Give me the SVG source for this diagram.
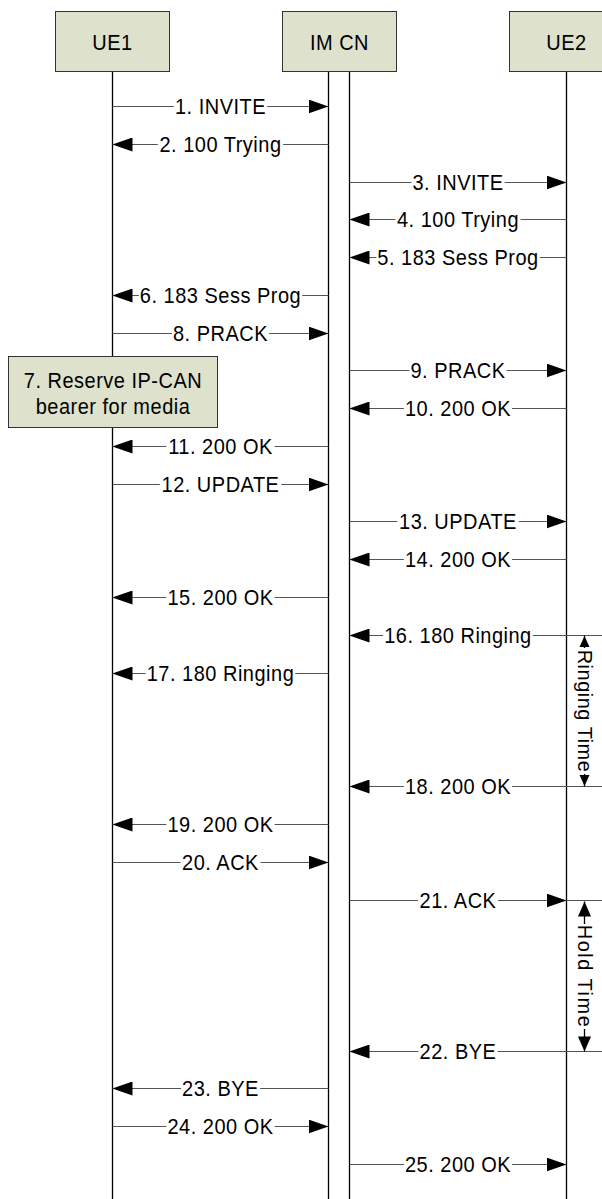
<svg xmlns="http://www.w3.org/2000/svg" width="602" height="1199" viewBox="0 0 602 1199">
<style>
.box{fill:#dee1cb;stroke:#333;stroke-width:1}
.life{stroke:#000;stroke-width:1.3;fill:none}
.msg{stroke:#555;stroke-width:1;fill:none}
.arr{marker-end:url(#ah)}
.head{fill:#000}
text{font-family:"Liberation Sans",Arial,sans-serif;font-size:20px;letter-spacing:0.5px;fill:#000;text-anchor:middle}
.h{transform-box:fill-box;transform-origin:center;transform:scaleY(1.12)}
</style>
<defs>
<marker id="ah" markerUnits="userSpaceOnUse" markerWidth="20" markerHeight="14" refX="20" refY="7" orient="auto"><path d="M0,0 L20,7 L0,14 z" fill="#000"/></marker>
</defs>
<rect width="602" height="1199" fill="#fff"/>
<g id="lifelines">
<line class="life" x1="112.5" y1="71.5" x2="112.5" y2="1199"/>
<line class="life" x1="328.5" y1="71.5" x2="328.5" y2="1199"/>
<line class="life" x1="349.5" y1="71.5" x2="349.5" y2="1199"/>
<line class="life" x1="566.5" y1="71.5" x2="566.5" y2="1199"/>
</g>
<g id="UE1"><rect class="box" x="55.5" y="11.5" width="114" height="60"/><text class="h" x="112.5" y="49">UE1</text></g>
<g id="IMCN"><rect class="box" x="282.5" y="11.5" width="114" height="60"/><text class="h" x="339.5" y="49">IM CN</text></g>
<g id="UE2"><rect class="box" x="509.5" y="11.5" width="114" height="60"/><text class="h" x="566.5" y="49">UE2</text></g>
<g id="note7"><rect class="box" x="8.5" y="356.5" width="209" height="71"/><text class="h" x="113" y="387">7. Reserve IP-CAN</text><text class="h" x="113" y="413">bearer for media</text></g>
<g id="connectors">
<line class="msg" x1="112.5" y1="106.5" x2="173.9" y2="106.5"/><line class="msg arr" x1="267.1" y1="106.5" x2="328.5" y2="106.5"/><text class="h" x="220.5" y="113.5">1. INVITE</text>
<line class="msg" x1="328.5" y1="144.5" x2="283.1" y2="144.5"/><line class="msg arr" x1="157.9" y1="144.5" x2="112.5" y2="144.5"/><text class="h" x="220.5" y="151.5">2. 100 Trying</text>
<line class="msg" x1="349.5" y1="182.5" x2="411.4" y2="182.5"/><line class="msg arr" x1="504.6" y1="182.5" x2="566.5" y2="182.5"/><text class="h" x="458" y="189.5">3. INVITE</text>
<line class="msg" x1="566.5" y1="219.5" x2="520.6" y2="219.5"/><line class="msg arr" x1="395.4" y1="219.5" x2="349.5" y2="219.5"/><text class="h" x="458" y="226.5">4. 100 Trying</text>
<line class="msg" x1="566.5" y1="257.5" x2="539.7" y2="257.5"/><line class="msg arr" x1="376.4" y1="257.5" x2="349.5" y2="257.5"/><text class="h" x="458" y="264.5">5. 183 Sess Prog</text>
<line class="msg" x1="328.5" y1="295.5" x2="302.2" y2="295.5"/><line class="msg arr" x1="138.9" y1="295.5" x2="112.5" y2="295.5"/><text class="h" x="220.5" y="302.5">6. 183 Sess Prog</text>
<line class="msg" x1="112.5" y1="333.5" x2="172" y2="333.5"/><line class="msg arr" x1="269" y1="333.5" x2="328.5" y2="333.5"/><text class="h" x="220.5" y="340.5">8. PRACK</text>
<line class="msg" x1="349.5" y1="370.5" x2="409.5" y2="370.5"/><line class="msg arr" x1="506.5" y1="370.5" x2="566.5" y2="370.5"/><text class="h" x="458" y="377.5">9. PRACK</text>
<line class="msg" x1="566.5" y1="408.5" x2="512.1" y2="408.5"/><line class="msg arr" x1="403.9" y1="408.5" x2="349.5" y2="408.5"/><text class="h" x="458" y="415.5">10. 200 OK</text>
<line class="msg" x1="328.5" y1="446.5" x2="274.6" y2="446.5"/><line class="msg arr" x1="166.4" y1="446.5" x2="112.5" y2="446.5"/><text class="h" x="220.5" y="453.5">11. 200 OK</text>
<line class="msg" x1="112.5" y1="484.5" x2="159.8" y2="484.5"/><line class="msg arr" x1="281.3" y1="484.5" x2="328.5" y2="484.5"/><text class="h" x="220.5" y="491.5">12. UPDATE</text>
<line class="msg" x1="349.5" y1="521.5" x2="397.3" y2="521.5"/><line class="msg arr" x1="518.8" y1="521.5" x2="566.5" y2="521.5"/><text class="h" x="458" y="528.5">13. UPDATE</text>
<line class="msg" x1="566.5" y1="559.5" x2="512.1" y2="559.5"/><line class="msg arr" x1="403.9" y1="559.5" x2="349.5" y2="559.5"/><text class="h" x="458" y="566.5">14. 200 OK</text>
<line class="msg" x1="328.5" y1="597.5" x2="274.6" y2="597.5"/><line class="msg arr" x1="166.4" y1="597.5" x2="112.5" y2="597.5"/><text class="h" x="220.5" y="604.5">15. 200 OK</text>
<line class="msg" x1="602" y1="635.5" x2="532.8" y2="635.5"/><line class="msg arr" x1="383.2" y1="635.5" x2="349.5" y2="635.5"/><text class="h" x="458" y="642.5">16. 180 Ringing</text>
<line class="msg" x1="328.5" y1="673.5" x2="295.3" y2="673.5"/><line class="msg arr" x1="145.7" y1="673.5" x2="112.5" y2="673.5"/><text class="h" x="220.5" y="680.5">17. 180 Ringing</text>
<line class="msg" x1="602" y1="786.5" x2="512.1" y2="786.5"/><line class="msg arr" x1="403.9" y1="786.5" x2="349.5" y2="786.5"/><text class="h" x="458" y="793.5">18. 200 OK</text>
<line class="msg" x1="328.5" y1="824.5" x2="274.6" y2="824.5"/><line class="msg arr" x1="166.4" y1="824.5" x2="112.5" y2="824.5"/><text class="h" x="220.5" y="831.5">19. 200 OK</text>
<line class="msg" x1="112.5" y1="862.5" x2="180.5" y2="862.5"/><line class="msg arr" x1="260.5" y1="862.5" x2="328.5" y2="862.5"/><text class="h" x="220.5" y="869.5">20. ACK</text>
<line class="msg" x1="349.5" y1="900.5" x2="418" y2="900.5"/><line class="msg arr" x1="498" y1="900.5" x2="566.5" y2="900.5"/><line class="msg" x1="566.5" y1="900.5" x2="602" y2="900.5"/><text class="h" x="458" y="907.5">21. ACK</text>
<line class="msg" x1="602" y1="1051.5" x2="497.5" y2="1051.5"/><line class="msg arr" x1="418.5" y1="1051.5" x2="349.5" y2="1051.5"/><text class="h" x="458" y="1058.5">22. BYE</text>
<line class="msg" x1="328.5" y1="1088.5" x2="260" y2="1088.5"/><line class="msg arr" x1="181" y1="1088.5" x2="112.5" y2="1088.5"/><text class="h" x="220.5" y="1095.5">23. BYE</text>
<line class="msg" x1="112.5" y1="1126.5" x2="166.4" y2="1126.5"/><line class="msg arr" x1="274.6" y1="1126.5" x2="328.5" y2="1126.5"/><text class="h" x="220.5" y="1133.5">24. 200 OK</text>
<line class="msg" x1="349.5" y1="1164.5" x2="403.9" y2="1164.5"/><line class="msg arr" x1="512.1" y1="1164.5" x2="566.5" y2="1164.5"/><text class="h" x="458" y="1171.5">25. 200 OK</text>
</g>
<g id="ringing-time">
<line class="life" x1="584.5" y1="635.5" x2="584.5" y2="648"/>
<line class="life" x1="584.5" y1="774" x2="584.5" y2="786.5"/>
<polygon class="head" points="584.5,636 579.5,647 589.5,647"/>
<polygon class="head" points="584.5,786 579.5,775 589.5,775"/>
<text transform="translate(584.5,711) rotate(90)" x="0" y="7">Ringing Time</text>
</g>
<g id="hold-time">
<line class="life" x1="584.5" y1="901.5" x2="584.5" y2="924"/>
<line class="life" x1="584.5" y1="1029" x2="584.5" y2="1051.5"/>
<polygon class="head" points="584.5,901.5 578,916.5 591,916.5"/>
<polygon class="head" points="584.5,1051.5 578,1036.5 591,1036.5"/>
<text transform="translate(584.5,976.5) rotate(90)" x="0" y="7" style="letter-spacing:1.5px">Hold Time</text>
</g>
</svg>
